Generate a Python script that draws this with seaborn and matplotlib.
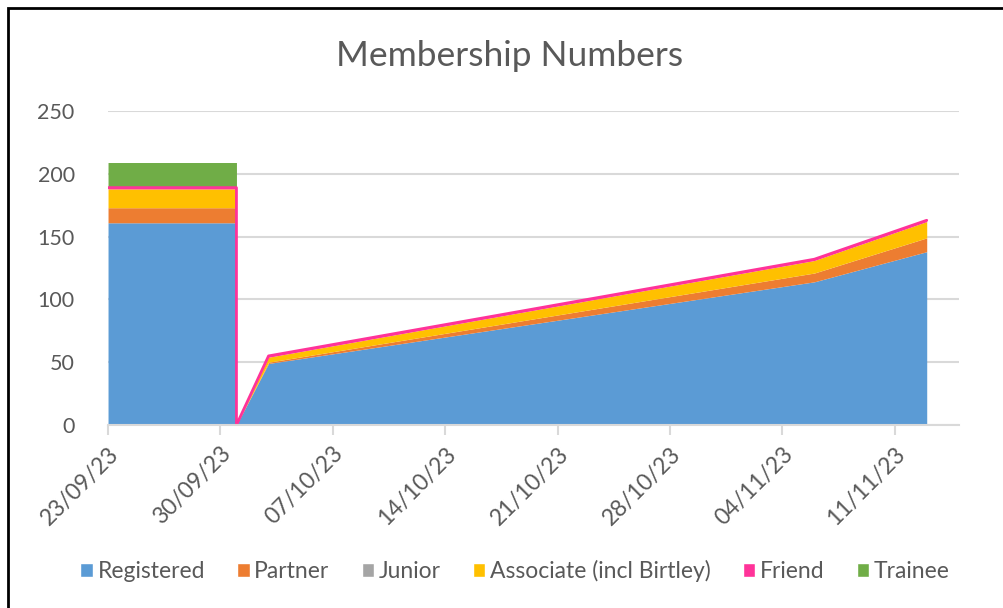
import pandas as pd
import seaborn as sns
import matplotlib.pyplot as plt
import matplotlib.dates as mdates
from matplotlib.patches import Rectangle, Patch

# Datos (dos filas el 01/10 para la caida vertical)
dates = ['2023-09-23', '2023-10-01', '2023-10-01', '2023-10-03', '2023-11-06', '2023-11-13']
registered = [161, 161, 0, 49, 114, 138]
partner = [12, 12, 0, 1, 7, 11]
junior = [0, 0, 0, 0, 0, 0]
associate = [15, 15, 0, 4, 10, 13]
friend = [1, 1, 0, 1, 1, 1]
trainee = [20, 20, 0, 0, 0, 0]

series = ['Registered', 'Partner', 'Junior', 'Associate (incl Birtley)', 'Friend', 'Trainee']
colors = ['#5B9BD5', '#ED7D31', '#A5A5A5', '#FFC000', '#FF3399', '#70AD47']

df = pd.DataFrame({
    'date': pd.to_datetime(dates),
    'Registered': registered,
    'Partner': partner,
    'Junior': junior,
    'Associate (incl Birtley)': associate,
    'Friend': friend,
    'Trainee': trainee,
})

sns.set_theme(style='white')
plt.rcParams['font.family'] = ['Lato', 'DejaVu Sans']
gray = '#595959'
grid = '#D9D9D9'

fig = plt.figure(figsize=(10.04, 6.08), dpi=100)
ax = fig.add_axes([0.1076, 0.301, 0.8474, 0.5164])

ax.stackplot(df['date'], [df[s] for s in series], colors=colors, linewidth=0)

# contorno rosa de la serie Friend
df['friend_top'] = df[series[:5]].sum(axis=1)
sns.lineplot(data=df, x='date', y='friend_top', ax=ax, color='#FF3399', lw=2,
             sort=False, estimator=None)

ax.set_ylim(0, 250)
ax.set_yticks(range(0, 251, 50))
ax.set_xlim(pd.Timestamp('2023-09-23'), pd.Timestamp('2023-11-15'))
ticks = pd.date_range('2023-09-23', '2023-11-15', freq='7D')
ax.set_xticks(ticks)
ax.xaxis.set_major_formatter(mdates.DateFormatter('%d/%m/%y'))
ax.set_xlabel('')
ax.set_ylabel('')

ax.yaxis.grid(True, color=grid, lw=1.5)
ax.set_axisbelow(True)
for s in ['top', 'right', 'left']:
    ax.spines[s].set_visible(False)
ax.spines['bottom'].set_color(grid)
ax.spines['bottom'].set_linewidth(1.5)

ax.tick_params(axis='x', bottom=True, length=7, width=1.5, color=grid, labelsize=16.5,
               labelcolor=gray, pad=6)
ax.tick_params(axis='y', left=False, labelsize=15.5, labelcolor=gray, pad=18)
plt.setp(ax.get_xticklabels(), rotation=45, ha='right', rotation_mode='anchor')

fig.text(0.508, 0.908, 'Membership Numbers', fontsize=25.5, color=gray,
         ha='center', va='center')

handles = [Patch(facecolor=c, label=s) for s, c in zip(series, colors)]
leg = fig.legend(handles=handles, loc='center', bbox_to_anchor=(0.513, 0.061), ncol=6,
                 frameon=False, fontsize=16.5, handlelength=0.55, handleheight=0.55,
                 handletextpad=0.2, columnspacing=1.4, labelcolor=gray)

# marco negro alrededor del grafico
fig.add_artist(Rectangle((8 / 1004, -0.05), 1.2, 1 - 8 / 608 + 0.05, transform=fig.transFigure,
                         fill=False, edgecolor='black', lw=2))

fig.savefig('out.png', dpi=100)
